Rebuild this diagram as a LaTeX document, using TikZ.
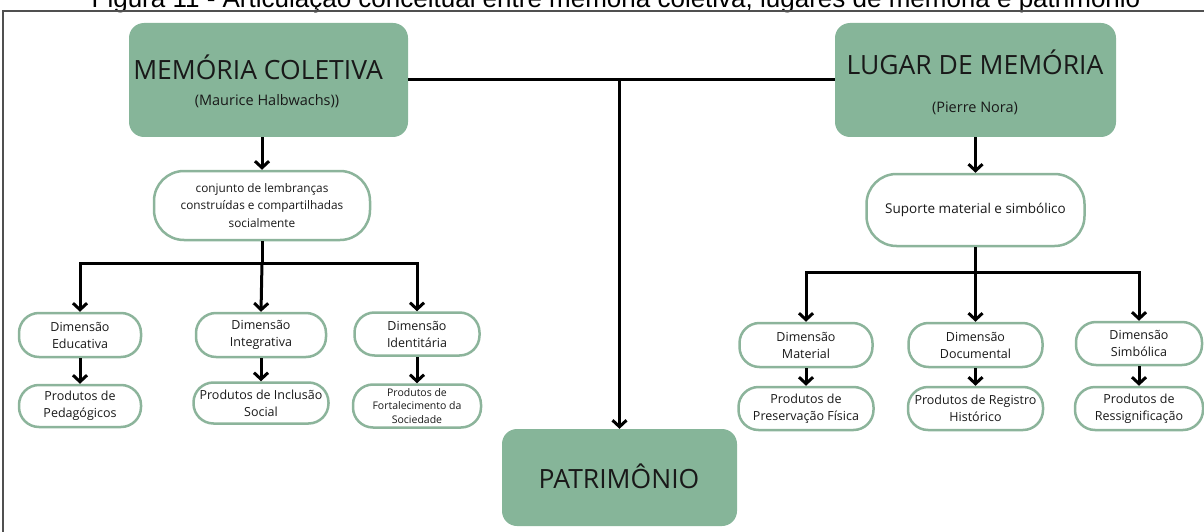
\documentclass[tikz,border=0pt]{standalone}
\usepackage{fontspec}
\setmainfont{Open Sans}
\newfontfamily\titlefont{Liberation Sans}
\usetikzlibrary{arrows.meta}
\definecolor{sage}{RGB}{134,181,153}
\definecolor{pillc}{RGB}{140,180,155}
\definecolor{ink}{RGB}{25,25,25}
\definecolor{framec}{RGB}{80,80,80}
\begin{document}
\begin{tikzpicture}[x=1pt,y=-1pt,
  bigbox/.style={fill=sage, draw=none, rounded corners=15pt, inner sep=0pt},
  pill/.style={draw=pillc, line width=2.5pt, fill=white, rounded corners=20pt,
    inner sep=0pt, align=center, text=ink, font=\fontsize{12.5}{17}\selectfont},
  bigpill/.style={pill, rounded corners=30pt},
  conn/.style={line width=3pt, draw=black},
  arr/.style={conn, -{Straight Barb[length=6.5pt,width=14pt]}},
  bigtxt/.style={anchor=base, text=ink, font=\fontsize{26.5}{30}\selectfont},
  subtxt/.style={anchor=base, text=ink, font=\fontsize{14.5}{16}\selectfont},
]
\useasboundingbox (0,0) rectangle (1204,532);
\clip (0,0) rectangle (1204,532);

% title and frame
\node[anchor=base, text=black, font=\titlefont\fontsize{26}{30}\selectfont] (title) at (616,8)
  {Figura 11 - Articulação conceitual entre memória coletiva, lugares de memória e patrimônio};
\draw[line width=1.3pt, draw=framec] (3,700) -- (3,11) -- (1400,11);

% big boxes
\node[bigbox, minimum width=279pt, minimum height=114pt] (mc) at (268.5,80) {};
\node[bigtxt] (mct) at (258,80) {MEMÓRIA COLETIVA};
\node[subtxt] (mcs) at (267,106) {(Maurice Halbwachs))};

\node[bigbox, minimum width=281pt, minimum height=114pt] (lm) at (975.5,80) {};
\node[bigtxt] (lmt) at (975,75) {LUGAR DE MEMÓRIA};
\node[subtxt] (lms) at (975,113) {(Pierre Nora)};

\node[bigbox, minimum width=235pt, minimum height=97pt] (pat) at (619.5,477.5) {};
\node[bigtxt] (patt) at (619,488) {PATRIMÔNIO};

% top connectors
\draw[conn] (mc.east) -- (lm.west);
\coordinate (j) at (619.5,80);
\draw[arr] (j) -- (pat.north);

% left branch
\node[bigpill, minimum width=216pt, minimum height=69pt, font=\fontsize{11.8}{17.5}\selectfont] (c) at (262,205.5)
  {conjunto de lembranças\\construídas e compartilhadas\\socialmente};
\draw[arr] (mc.south -| c.north) -- (c.north);

\node[pill, minimum width=122pt, minimum height=44pt] (d1) at (80,335) {Dimensão\\Educativa};
\node[pill, minimum width=130pt, minimum height=44pt] (d2) at (261,335) {Dimensão\\Integrativa};
\node[pill, minimum width=125pt, minimum height=43pt] (d3) at (417,334) {Dimensão\\Identitária};

\node[pill, minimum width=122pt, minimum height=42pt] (p1) at (80,406) {Produtos de\\Pedagógicos};
\node[pill, minimum width=135pt, minimum height=41pt] (p2) at (261,403) {Produtos de Inclusão\\Social};
\node[pill, minimum width=128pt, minimum height=43pt, font=\fontsize{10.5}{13.5}\selectfont] (p3) at (417,406)
  {Produtos de\\Fortalecimento da\\Sociedade};

\coordinate (lb) at (c.south |- 0,263);
\draw[conn] (c.south) -- (lb);
\draw[arr] (lb) -| (d1.north);
\draw[arr] (lb) -- (d2.north);
\draw[arr] (lb) -| (d3.north);
\draw[arr] (d1.south) -- (p1.north);
\draw[arr] (d2.south) -- (p2.north);
\draw[arr] (d3.south) -- (p3.north);

% right branch
\node[bigpill, minimum width=218pt, minimum height=72pt, font=\fontsize{13.5}{17}\selectfont] (s) at (975.5,210) {Suporte material e simbólico};
\draw[arr] (lm.south) -- (s.north);

\node[pill, minimum width=133pt, minimum height=44pt] (d4) at (806,345) {Dimensão\\Material};
\node[pill, minimum width=134pt, minimum height=44pt] (d5) at (975.5,345) {Dimensão\\Documental};
\node[pill, minimum width=126pt, minimum height=43pt] (d6) at (1139,343.5) {Dimensão\\Simbólica};

\node[pill, minimum width=135pt, minimum height=43pt] (p4) at (806,408.5) {Produtos de\\Preservação Física};
\node[pill, minimum width=135pt, minimum height=43pt] (p5) at (975.5,408.5) {Produtos de Registro\\Histórico};
\node[pill, minimum width=128pt, minimum height=43pt] (p6) at (1139,408.5) {Produtos de\\Ressignificação};

\coordinate (rb) at (s.south |- 0,272);
\draw[conn] (s.south) -- (rb);
\draw[arr] (rb) -| (d4.north);
\draw[arr] (rb) -- (d5.north);
\draw[arr] (rb) -| (d6.north);
\draw[arr] (d4.south) -- (p4.north);
\draw[arr] (d5.south) -- (p5.north);
\draw[arr] (d6.south) -- (p6.north);
\end{tikzpicture}
\end{document}
